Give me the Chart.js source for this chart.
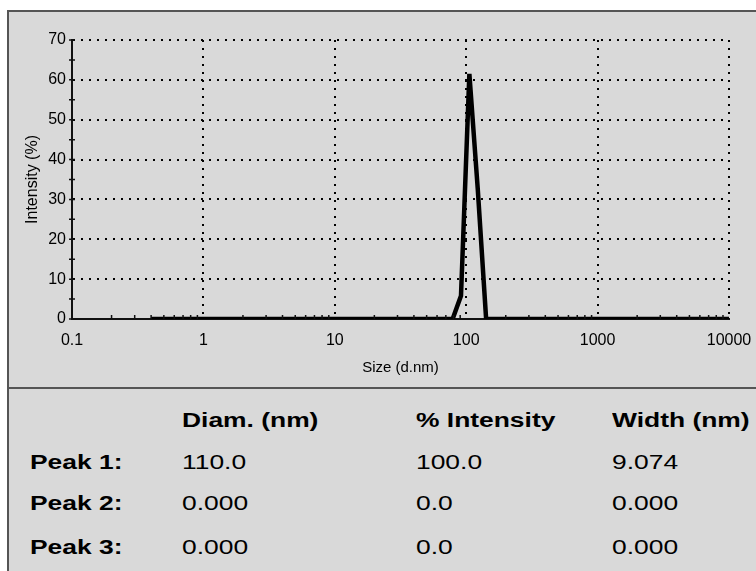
<!DOCTYPE html>
<html>
<head>
<meta charset="utf-8">
<script src="https://cdn.jsdelivr.net/npm/chart.js@4"></script>
<style>
body { margin:0; background:#fff; width:756px; height:571px; overflow:hidden; position:relative; font-family:'Liberation Sans', Arial, sans-serif; }
#panel { position:absolute; left:7px; top:10px; width:760px; height:570px; background:#d9d9d9; border-left:2px solid #555; border-top:2px solid #555; }
#chartBox { position:absolute; left:9px; top:13px; width:747px; height:376px; }
#divider { position:absolute; left:9px; top:387px; width:747px; height:2px; background:#555; }
.cell { position:absolute; font-size:20px; line-height:24px; color:#000; transform:scaleX(1.32); transform-origin:0 50%; white-space:nowrap; }
.bold { font-weight:bold; }
</style>
</head>
<body>
<div id="panel"></div>
<div id="chartBox"><canvas id="myChart"></canvas></div>
<div id="divider"></div>
<div id="table"></div>
<script>
// size distribution by intensity
var sizes = [0.4, 78.82, 91.28, 105.7, 122.4, 141.8, 10000];
var intensity = [0, 0, 5.8, 61.5, 32.7, 0, 0];
var xTicks = [0.1, 1, 10, 100, 1000, 10000];

// peak table
var tableHeaders = ['Diam. (nm)', '% Intensity', 'Width (nm)'];
var peakNames = ['Peak 1:', 'Peak 2:', 'Peak 3:'];
var peakDiam = ['110.0', '0.000', '0.000'];
var peakIntensity = ['100.0', '0.0', '0.0'];
var peakWidth = ['9.074', '0.000', '0.000'];

var points = sizes.map(function(s, i) { return {x: s, y: intensity[i]}; });

var minorTicks = {
    id: 'minorTicks',
    afterDraw: function(chart) {
        var ctx = chart.ctx, xs = chart.scales.x, ys = chart.scales.y;
        ctx.save();
        ctx.strokeStyle = '#111';
        ctx.lineWidth = 1.5;
        ctx.beginPath();
        for (var d = 0; d < 5; d++) {
            var base = xTicks[d];
            for (var m = 2; m <= 9; m++) {
                var px = xs.getPixelForValue(base * m);
                ctx.moveTo(px, ys.bottom);
                ctx.lineTo(px, ys.bottom - 4);
            }
        }
        for (var v = ys.min; v <= ys.max; v += 5) {
            var py = ys.getPixelForValue(v);
            ctx.moveTo(xs.left - 3, py);
            ctx.lineTo(xs.left + 3, py);
        }
        ctx.stroke();
        ctx.restore();
    }
};

var config = {
    type: 'line',
    data: {
        datasets: [{
            data: points,
            borderColor: '#000',
            borderWidth: 4.5,
            pointRadius: 0,
            tension: 0,
            fill: false
        }]
    },
    options: {
        responsive: true,
        maintainAspectRatio: false,
        animation: false,
        layout: { padding: { top: 27, right: 27, left: 0, bottom: 0 } },
        plugins: {
            legend: { display: false },
            tooltip: { enabled: false }
        },
        scales: {
            x: {
                type: 'logarithmic',
                min: 0.1,
                max: 10000,
                afterBuildTicks: function(scale) {
                    scale.ticks = xTicks.map(function(v) { return {value: v}; });
                },
                afterFit: function(scale) {
                    scale.height = 70;
                    scale.paddingLeft = 0;
                    scale.paddingRight = 0;
                },
                ticks: {
                    color: '#000',
                    font: { size: 16 },
                    padding: 12,
                    maxRotation: 0,
                    autoSkip: false,
                    callback: function(v) { return String(v); }
                },
                grid: {
                    color: function(c) { return c.tick && c.tick.value === 0.1 ? 'rgba(0,0,0,0)' : '#000'; },
                    lineWidth: 2,
                    drawTicks: false
                },
                border: { display: true, color: '#111', width: 2, dash: [2, 6] },
                title: {
                    display: true,
                    text: 'Size (d.nm)',
                    color: '#000',
                    font: { size: 15 },
                    padding: { top: 0, bottom: 12 }
                }
            },
            y: {
                min: 0,
                max: 70,
                afterFit: function(scale) { scale.width = 63; },
                ticks: {
                    stepSize: 10,
                    color: '#000',
                    font: { size: 16 },
                    padding: 6
                },
                grid: {
                    color: function(c) { return c.tick && c.tick.value === 0 ? 'rgba(0,0,0,0)' : '#000'; },
                    lineWidth: 2,
                    drawTicks: false
                },
                border: { display: true, color: '#111', width: 2, dash: [2, 6] },
                title: {
                    display: true,
                    text: 'Intensity (%)',
                    color: '#000',
                    font: { size: 16 },
                    padding: { top: 14, bottom: 0 }
                }
            }
        }
    },
    plugins: [minorTicks]
};

window.onload = function() {
    var ctx = document.getElementById('myChart').getContext('2d');
    window.myLine = new Chart(ctx, config);

    var table = document.getElementById('table');
    var colX = [30, 182, 416, 612];
    var rowY = [420, 462, 503, 547];
    function addCell(text, x, y, bold) {
        var d = document.createElement('div');
        d.className = 'cell' + (bold ? ' bold' : '');
        d.textContent = text;
        d.style.left = x + 'px';
        d.style.top = (y - 12) + 'px';
        table.appendChild(d);
    }
    tableHeaders.forEach(function(h, i) { addCell(h, colX[i + 1], rowY[0], true); });
    peakNames.forEach(function(name, r) {
        addCell(name, colX[0], rowY[r + 1], true);
        addCell(peakDiam[r], colX[1], rowY[r + 1], false);
        addCell(peakIntensity[r], colX[2], rowY[r + 1], false);
        addCell(peakWidth[r], colX[3], rowY[r + 1], false);
    });
};
</script>
</body>
</html>
